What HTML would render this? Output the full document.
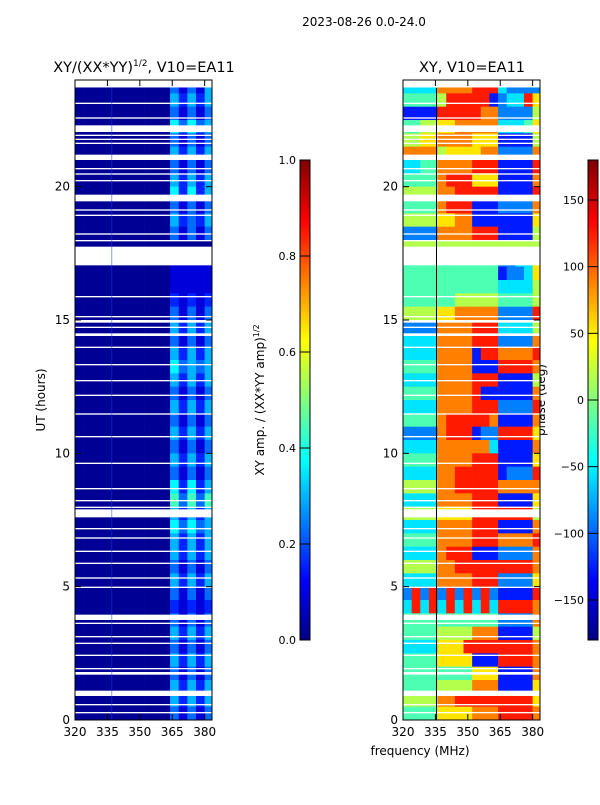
<!DOCTYPE html>
<html><head><meta charset="utf-8"><style>
body{margin:0;background:#fff;}
svg text{font-family:"DejaVu Sans","Liberation Sans",sans-serif;fill:#000;}
</style></head><body>
<svg id="fig" width="600" height="800" xmlns="http://www.w3.org/2000/svg">
<rect width="600" height="800" fill="#fff"/>
<text x="364" y="26" font-size="12" text-anchor="middle">2023-08-26 0.0-24.0</text>
<text x="144" y="72" font-size="14.5" text-anchor="middle">XY/(XX*YY)<tspan font-size="9" dy="-6">1/2</tspan><tspan dy="6">, V10=EA11</tspan></text>
<text x="472" y="72" font-size="14.5" text-anchor="middle">XY, V10=EA11</text>
<text x="45" y="400" font-size="12" text-anchor="middle" transform="rotate(-90 45 400)">UT (hours)</text>
<text x="264" y="400" font-size="12" text-anchor="middle" transform="rotate(-90 264 400)">XY amp. / (XX*YY amp)<tspan font-size="8" dy="-5">1/2</tspan></text>
<text x="545" y="400" font-size="12" text-anchor="middle" transform="rotate(-90 545 400)">phase (deg)</text>
<text x="420" y="755" font-size="12" text-anchor="middle">frequency (MHz)</text>
<g id="layer"></g>
</svg>
<script>
// ---- data ----
const freqEdges = [320,324,328,332,336,340,344,348,352,356,360,364,368,372,376,380,384];
const utRowStart = [23.5,23,22.5,22,21.5,21,20.5,20,19.5,19,18.5,18,17.5,17,16.5,16,15.5,15,14.5,14,13.5,13,12.5,12,11.5,11,10.5,10,9.5,9,8.5,8,7.5,7,6.5,6,5.5,5,4.5,4,3.5,3,2.5,2,1.5,1,0.5,0];
const ampRows = [
"0000000000031314","0000000000042424","0000000000031313","0000000000053534","0000000000031313",
"0000000000042424","0000000000031313","0000000000042424","0000000000052524","0000000000031313",
"0000000000042324","0000000000031313","0000000000000000","0000000000011111","0000000000011111",
"0000000000011111","0000000000021212","0000000000031313","0000000000042424","0000000000031313",
"0000000000042424","0000000000053434","0000000000042424","0000000000031313","0000000000042424",
"0000000000031313","0000000000042424","0000000000031313","0000000000042424","0000000000031313",
"0000000000052524","0000000000063636","0000000000042424","0000000000053534","0000000000042424",
"0000000000042424","0000000000031313","0000000000042424","0000000000031313","0000000000021212",
"0000000000031313","0000000000042424","0000000000031313","0000000000042424","0000000000031313",
"0000000000042424","0000000000042424","0000000000031313"];
const phaseRows = [
"3333777788832222","4444588888123386","1111888887722225","4455667777733346","5566777766611115",
"7777566667722227","3344777788811118","4444788866611117","5555778888811118","4444788811122227",
"5555667711111116","2222777788811115","5555555555555555","4444444444422336","4444444444412236",
"4444444444433335","4444445555544445","5555667777722228","2222777788833335","3333777788822227",
"3333777718877778","4444777711188887","3333777788811115","4444777781111117","3333777788822228",
"4444788888711117","2222788812288886","3333777777311117","4444777788811116","3333778888812228",
"5555778888877777","3333777788811116","5555666688888885","3333777788811117","4444777788877778",
"3333788811122227","5555778888888887","3333777788822226","2828282828211118","3838383838388887",
"4444444444422227","4444555577711115","3333666888888887","4444666611188887","4444444466611117",
"4444555577711116","5555778888888886","4444666677788887"];
const gaps = [[23.72,24],[23.1,23.15],[22.55,22.6],[22.05,22.3],[21.9,21.95],[21.75,21.8],[21.6,21.65],[21.0,21.2],[20.65,20.7],[20.45,20.5],[20.2,20.25],[19.45,19.7],[19.1,19.15],[18.9,18.95],[18.2,18.25],[17.95,18.0],[17.05,17.75],[15.85,15.9],[15.1,15.15],[14.9,15.0],[14.7,14.75],[14.4,14.5],[13.95,14.0],[13.3,13.35],[12.7,12.75],[12.15,12.2],[11.45,11.5],[10.6,10.65],[9.6,9.65],[8.65,8.7],[8.2,8.25],[7.95,8.0],[7.6,7.9],[7.15,7.2],[6.8,6.85],[6.3,6.35],[5.85,5.9],[5.3,5.35],[4.95,5.0],[3.75,3.95],[3.6,3.65],[3.1,3.15],[2.85,2.9],[2.4,2.45],[1.9,1.95],[1.7,1.8],[0.9,1.1],[0.55,0.6],[0.25,0.3]];
const xTicks = [320,335,350,365,380];
const yTicks = [0,5,10,15,20];
const ampCbTicks = [0.0,0.2,0.4,0.6,0.8,1.0];
const phaseCbTicks = [-150,-100,-50,0,50,100,150];

// ---- helpers ----
const NS="http://www.w3.org/2000/svg";
const layer=document.getElementById('layer');
function mk(tag,attrs,parent){const e=document.createElementNS(NS,tag);for(const k in attrs)e.setAttribute(k,attrs[k]);(parent||layer).appendChild(e);return e;}
function jet(v){v=Math.max(0,Math.min(1,v));
 const c=x=>Math.round(255*Math.max(0,Math.min(1,x)));
 const r=1.5-Math.abs(4*v-3), g=1.5-Math.abs(4*v-2), b=1.5-Math.abs(4*v-1);
 return `rgb(${c(r)},${c(g)},${c(b)})`;}
const yScale=ut=>720-(ut/24)*640;
function panel(x0,name,rows,norm){
 const xs=f=>x0+(f-320)*(137/63.4);
 const g=mk('g',{});
 
 
 rows.forEach((row,i)=>{
  const u0=utRowStart[i], y1=yScale(u0+0.5), y2=yScale(u0);
  for(let j=0;j<freqEdges.length-1;j++){
   const v=+row[j];
   const r=mk('rect',{x:xs(freqEdges[j]),y:y1,width:Math.min(xs(freqEdges[j+1]),x0+137)-xs(freqEdges[j])+0.3,height:y2-y1+0.3,fill:jet(norm(v))},g);
   
   
  }
 });
 gaps.forEach(gp=>{
  const r=mk('rect',{x:x0,y:yScale(gp[1]),width:137,height:yScale(gp[0])-yScale(gp[1]),fill:'#fff'},g);
  
  
 });
 return xs;
}
const xsL=panel(75,'amp',ampRows,v=>0.02+v*0.07);
const xsR=panel(403,'phase',phaseRows,v=>(v+0.5)/10);
mk('line',{x1:xsL(337),x2:xsL(337),y1:88,y2:720,stroke:'#1a3cff','stroke-width':1,opacity:0.5});
mk('line',{x1:xsR(335.5),x2:xsR(335.5),y1:88,y2:720,stroke:'#000','stroke-width':1});
function axes(x0,name){
 const xs=f=>x0+(f-320)*(137/63.4);
 const fr=mk('rect',{x:x0,y:80,width:137,height:640,fill:'none',stroke:'#000','stroke-width':1});
 
 
 xTicks.forEach(t=>{
  const x=xs(t);
  mk('line',{x1:x,x2:x,y1:720,y2:714,stroke:'#000'});
  mk('line',{x1:x,x2:x,y1:80,y2:86,stroke:'#000'});
  const tx=mk('text',{x:x,y:736,'font-size':12,'text-anchor':'middle'});tx.textContent=t;
  
  
 });
 yTicks.forEach(t=>{
  const y=yScale(t);
  mk('line',{x1:x0,x2:x0+6,y1:y,y2:y,stroke:'#000'});
  mk('line',{x1:x0+137,x2:x0+131,y1:y,y2:y,stroke:'#000'});
  const tx=mk('text',{x:x0-5,y:y+4,'font-size':12,'text-anchor':'end'});tx.textContent=t;
  
  
 });
}
axes(75,'amp');axes(403,'phase');
function colorbar(x,name,ticks,lo,hi){
 const g=mk('g',{});
 
 
 for(let i=0;i<240;i++){mk('rect',{x:x,y:160+i*2,width:10,height:2.3,fill:jet(1-i/240)},g);}
 mk('rect',{x:x,y:160,width:10,height:480,fill:'none',stroke:'#000','stroke-width':1},g);
 ticks.forEach(t=>{
  const y=640-(t-lo)/(hi-lo)*480;
  mk('line',{x1:x,x2:x+10,y1:y,y2:y,stroke:'#000'},g);
  const tx=mk('text',{x:x-4,y:y+4,'font-size':11,'text-anchor':'end'},g);
  tx.textContent=(name==='amp')?t.toFixed(1):(t<0?'\u2212'+(-t):t);
  
  
 });
}
colorbar(300,'amp',ampCbTicks,0,1);
colorbar(588,'phase',phaseCbTicks,-180,180);
</script>
</body></html>
